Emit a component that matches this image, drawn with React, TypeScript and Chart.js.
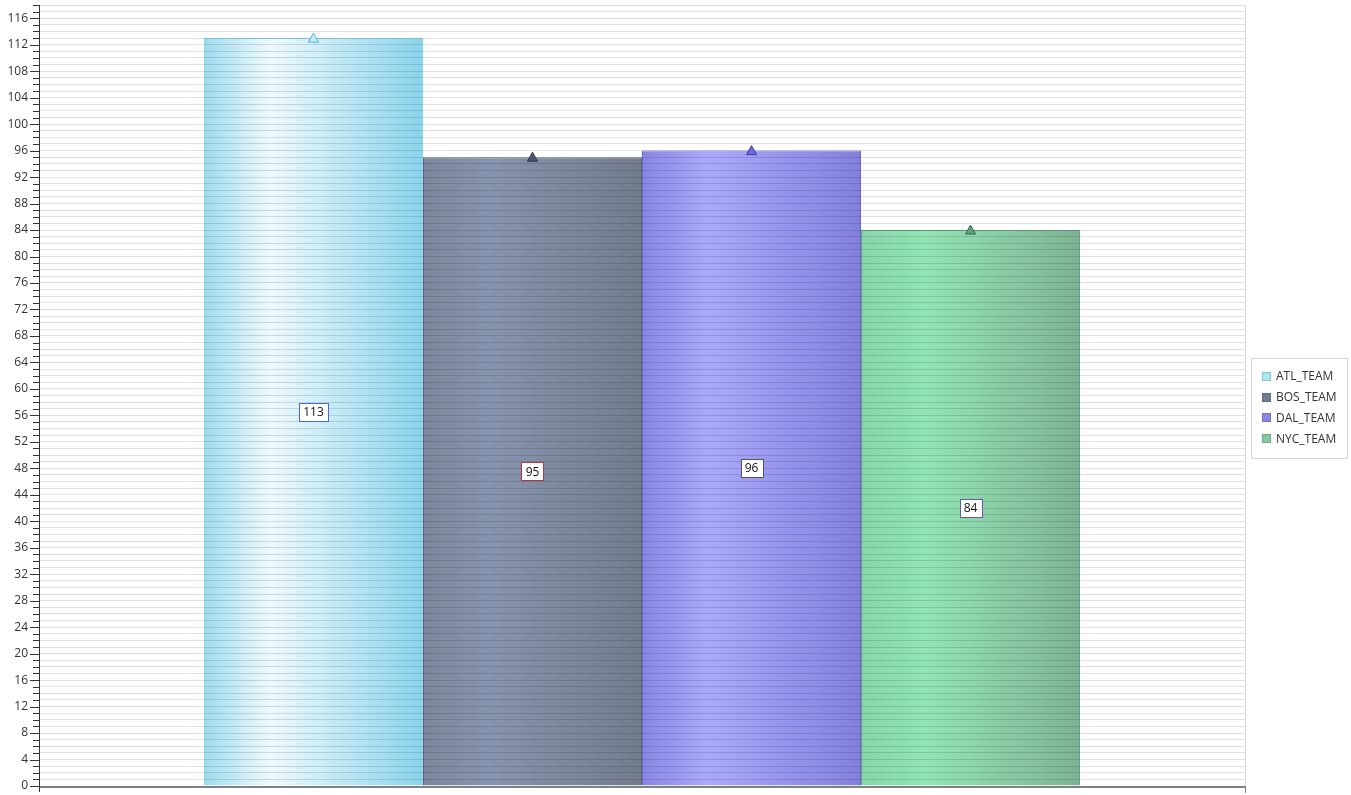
import React, { useEffect, useRef } from "react";
import { Chart, registerables } from "chart.js";

Chart.register(...registerables);

const categories = ["ATL_TEAM", "BOS_TEAM", "DAL_TEAM", "NYC_TEAM"];
const values = [113, 95, 96, 84];
const yMax = 118;
const yLabelStep = 4;

// [left, light, right] gradient stops for each bar
const barGradients = [
  ["#9edcef", "#eef9fd", "#8ad4ec"],
  ["#7d879d", "#8794af", "#737c8c"],
  ["#8886e2", "#aba9fc", "#8280dc"],
  ["#86d6aa", "#92e4b2", "#7eb395"],
];
const barBorders = ["#94d8ec", "#606878", "#6a68cc", "#6aa686"];
const legendColors = ["#a8e4f2", "#737d92", "#8a88e6", "#86c8a0"];
const triFill = ["#c6eef8", "#4c5670", "#6e6ce0", "#5f9f7f"];
const triStroke = ["#4cb4d4", "#2c3448", "#3a38b0", "#2f6f4f"];
const labelBorders = ["#4a6cc8", "#b03848", "#555555", "#6a50b8"];

const FONT = "'Open Sans', 'DejaVu Sans', sans-serif";

const customPlugin = {
  id: "custom",
  beforeDatasetsDraw(chart: any) {
    const ctx = chart.ctx;
    chart.data.datasets.forEach((ds: any, i: number) => {
      const meta = chart.getDatasetMeta(i);
      meta.data.forEach((el: any) => {
        const x0 = el.x - el.width / 2;
        const x1 = el.x + el.width / 2;
        const g = ctx.createLinearGradient(x0, 0, x1, 0);
        const s = barGradients[i];
        g.addColorStop(0, s[0]);
        g.addColorStop(0.3, s[1]);
        g.addColorStop(1, s[2]);
        el.options.backgroundColor = g;
      });
    });
  },
  afterDraw(chart: any) {
    const ctx = chart.ctx;
    const ca = chart.chartArea;
    const y = chart.scales.y;
    ctx.save();
    // right border
    ctx.strokeStyle = "#d8d8d8";
    ctx.lineWidth = 1;
    ctx.beginPath();
    ctx.moveTo(ca.right + 0.5, ca.top);
    ctx.lineTo(ca.right + 0.5, ca.bottom);
    ctx.stroke();
    // x axis
    ctx.strokeStyle = "#808080";
    ctx.lineWidth = 2;
    ctx.beginPath();
    ctx.moveTo(ca.left, ca.bottom + 1);
    ctx.lineTo(ca.right, ca.bottom + 1);
    ctx.stroke();
    ctx.lineWidth = 1;
    ctx.beginPath();
    ctx.moveTo(ca.right + 0.5, ca.bottom);
    ctx.lineTo(ca.right + 0.5, ca.bottom + 7);
    ctx.stroke();
    // y axis + ticks
    ctx.strokeStyle = "#333333";
    ctx.beginPath();
    ctx.moveTo(ca.left + 0.5, ca.top);
    ctx.lineTo(ca.left + 0.5, ca.bottom + 6);
    ctx.stroke();
    for (let v = 0; v <= yMax; v++) {
      const py = Math.round(y.getPixelForValue(v)) + 0.5;
      const len = v % yLabelStep === 0 ? 9 : 6;
      ctx.beginPath();
      ctx.moveTo(ca.left - len, py);
      ctx.lineTo(ca.left, py);
      ctx.stroke();
    }
    // triangles and value labels
    chart.data.datasets.forEach((ds: any, i: number) => {
      const meta = chart.getDatasetMeta(i);
      meta.data.forEach((el: any, j: number) => {
        const tx = el.x;
        const ty = el.y;
        ctx.beginPath();
        ctx.moveTo(tx, ty - 5);
        ctx.lineTo(tx + 5, ty + 4);
        ctx.lineTo(tx - 5, ty + 4);
        ctx.closePath();
        ctx.fillStyle = triFill[i];
        ctx.fill();
        ctx.strokeStyle = triStroke[i];
        ctx.lineWidth = 1;
        ctx.stroke();

        const text = String(ds.data[j]);
        ctx.font = `12px ${FONT}`;
        const tw = ctx.measureText(text).width;
        const bw = Math.round(tw + 8);
        const bh = 18;
        const cy = (el.y + el.base) / 2;
        const bx = Math.round(el.x - bw / 2) + 0.5;
        const by = Math.round(cy - bh / 2) + 0.5;
        ctx.fillStyle = "#ffffff";
        ctx.fillRect(bx, by, bw, bh);
        ctx.strokeStyle = labelBorders[i];
        ctx.strokeRect(bx, by, bw, bh);
        ctx.fillStyle = "#111111";
        ctx.textAlign = "center";
        ctx.textBaseline = "middle";
        ctx.fillText(text, el.x, cy + 1);
      });
    });
    // legend
    const lx = 1251.5, ly = 358.5, lw = 96, lh = 100;
    ctx.fillStyle = "#ffffff";
    ctx.fillRect(lx, ly, lw, lh);
    ctx.strokeStyle = "#d4d4d4";
    ctx.strokeRect(lx, ly, lw, lh);
    ctx.font = `12px ${FONT}`;
    ctx.textAlign = "left";
    ctx.textBaseline = "middle";
    categories.forEach((c, i) => {
      const iy = 376 + i * 20.7;
      ctx.fillStyle = legendColors[i];
      ctx.fillRect(1262, Math.round(iy - 4), 9, 9);
      ctx.strokeStyle = "rgba(0,0,0,0.15)";
      ctx.strokeRect(1262.5, Math.round(iy - 4) + 0.5, 8, 8);
      ctx.fillStyle = "#333333";
      ctx.fillText(c, 1276, iy + 1);
    });
    ctx.restore();
  },
};

export default function App() {
  const ref = useRef<HTMLCanvasElement>(null);
  useEffect(() => {
    document.body.style.margin = "0";
    const chart = new Chart(ref.current as HTMLCanvasElement, {
      type: "bar",
      data: {
        labels: [""],
        datasets: categories.map((c, i) => ({
          label: c,
          data: [values[i]],
          backgroundColor: barGradients[i][2],
          borderColor: barBorders[i],
          borderWidth: 1,
          barPercentage: 1,
          categoryPercentage: 0.7264,
        })),
      },
      options: {
        animation: false,
        responsive: true,
        maintainAspectRatio: false,
        layout: { padding: { top: 5, right: 106, bottom: 9, left: 0 } },
        plugins: { legend: { display: false }, tooltip: { enabled: false } },
        scales: {
          x: { display: false },
          y: {
            min: 0,
            max: yMax,
            afterFit(scale: any) {
              scale.width = 39;
              scale.paddingTop = 0;
              scale.paddingBottom = 0;
            },
            border: { display: false },
            grid: {
              z: 1,
              color: "rgba(0,0,0,0.12)",
              drawTicks: false,
            },
            ticks: {
              stepSize: 1,
              autoSkip: false,
              padding: 11,
              color: "#333333",
              font: { family: FONT, size: 12 },
              callback: (v: any) => (Number(v) % yLabelStep === 0 ? String(v) : ""),
            },
          },
        },
      },
      plugins: [customPlugin],
    });
    return () => chart.destroy();
  }, []);
  return (
    <div style={{ width: 1351, height: 795, position: "relative", background: "#fff" }}>
      <canvas ref={ref} />
    </div>
  );
}
